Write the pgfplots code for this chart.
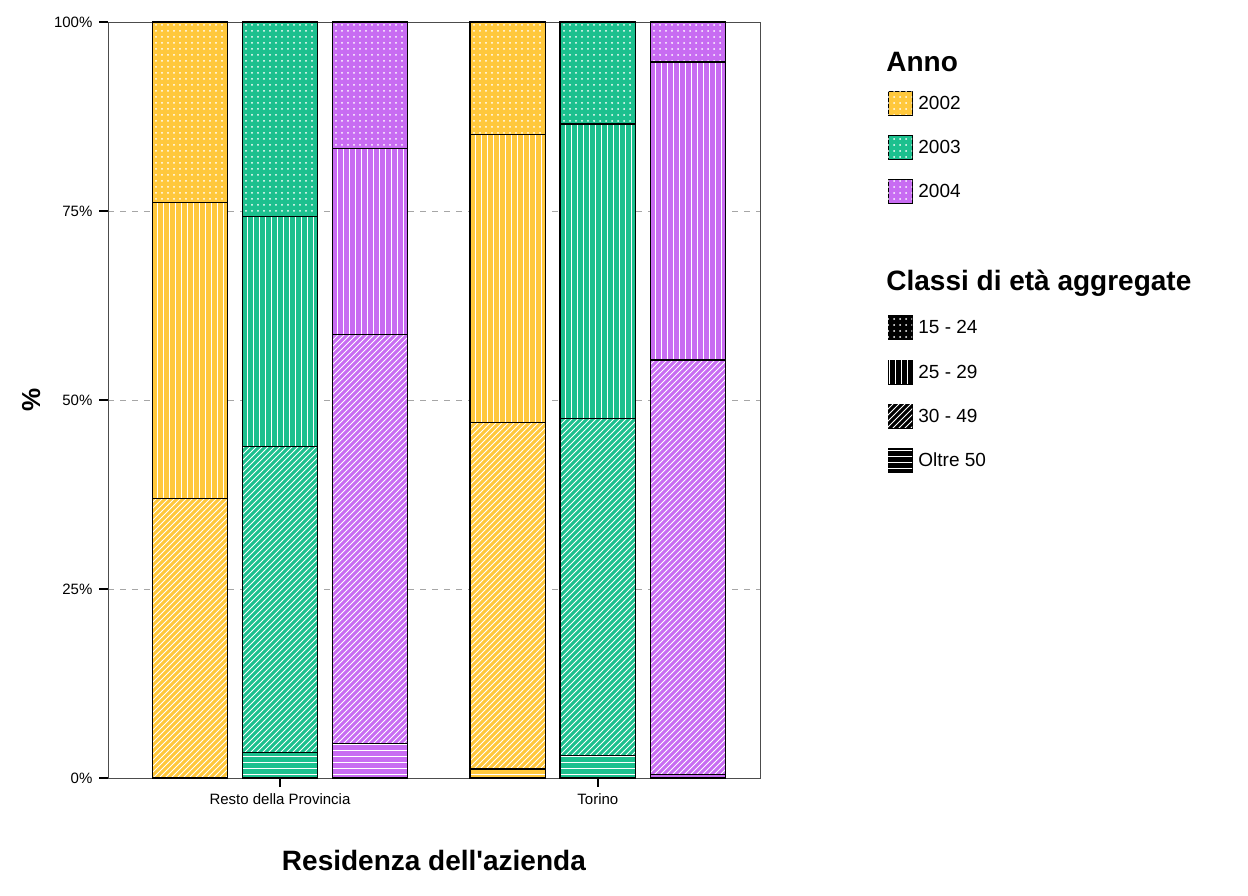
\documentclass[border=0pt]{standalone}
\usepackage{pgfplots}
\pgfplotsset{compat=1.18}
\usepackage{fontspec}
\setmainfont{Liberation Sans}
\usetikzlibrary{patterns}
\definecolor{cA}{HTML}{FFC83C}
\definecolor{cB}{HTML}{1CC08E}
\definecolor{cC}{HTML}{C86CF2}
\tikzset{
 pD/.style={postaction={pattern=dots,pattern color=white}},
 pV/.style={postaction={pattern=vertical lines,pattern color=white}},
 pN/.style={postaction={pattern=north east lines,pattern color=white}},
 pH/.style={postaction={pattern=horizontal lines,pattern color=white}},
}
\pgfplotsset{base/.style={at={(0,0)},anchor=south west,
 width=326pt,height=378pt,scale only axis,
 xmin=-0.91,xmax=6.33,ymin=0,ymax=100,
 ybar stacked,bar width=0.84,
 every axis plot/.append style={draw=black,line width=0.6pt}}}
\begin{document}
\begin{tikzpicture}
\useasboundingbox (-54pt,-58.5pt) rectangle (570pt,389pt);
\begin{axis}[base,
 ytick={0,25,50,75,100},yticklabels={0\%,25\%,50\%,75\%,100\%},
 xtick={1,4.53},xticklabels={Resto della Provincia,Torino},
 xtick pos=bottom,ytick pos=left,
 tick label style={font=\fontsize{7.5}{8}\selectfont},
 tick align=outside,tick style={black,line width=0.8pt},
 ymajorgrids,grid style={dashed,gray!70},
 ylabel={\textbf{\%}},ylabel style={font=\fontsize{13}{14}\selectfont},
 xlabel={\textbf{Residenza dell\textquotesingle azienda}},xlabel style={font=\fontsize{14}{15}\selectfont,yshift=-16pt},
 axis line style={black!70}]
\addplot[fill=cA,pH] coordinates {(0,0) (3.53,1.2)};
\addplot[fill=cA,pN] coordinates {(0,37.0) (3.53,45.8)};
\addplot[fill=cA,pV] coordinates {(0,39.1) (3.53,38.1)};
\addplot[fill=cA,pD] coordinates {(0,23.9) (3.53,14.9)};
\end{axis}
\begin{axis}[base,hide axis]
\addplot[fill=cB,pH] coordinates {(1,3.4) (4.53,3.0)};
\addplot[fill=cB,pN] coordinates {(1,40.4) (4.53,44.6)};
\addplot[fill=cB,pV] coordinates {(1,30.5) (4.53,38.9)};
\addplot[fill=cB,pD] coordinates {(1,25.7) (4.53,13.5)};
\end{axis}
\begin{axis}[base,hide axis]
\addplot[fill=cC,pH] coordinates {(2,4.6) (5.53,0.5)};
\addplot[fill=cC,pN] coordinates {(2,54.1) (5.53,54.8)};
\addplot[fill=cC,pV] coordinates {(2,24.6) (5.53,39.4)};
\addplot[fill=cC,pD] coordinates {(2,16.7) (5.53,5.3)};
\end{axis}
\begin{scope}[every node/.style={anchor=west,inner sep=0pt}]
\node at (389pt,358pt) {\fontsize{14}{15}\selectfont\bfseries Anno};
\node at (389pt,247.5pt) {\fontsize{14}{15}\selectfont\bfseries Classi di età aggregate};
\foreach \c/\y/\t in {cA/337.5/2002,cB/315.5/2003,cC/293.5/2004}{
 \draw[fill=\c,pD] (390pt,\y pt-6pt) rectangle (402pt,\y pt+6pt);
 \node at (405pt,\y pt) {\fontsize{9.5}{10}\selectfont \t};}
\foreach \p/\y/\t in {pD/225.5/15 - 24,pV/203/25 - 29,pN/181/30 - 49,pH/159/Oltre 50}{
 \draw[fill=black,\p] (390pt,\y pt-6pt) rectangle (402pt,\y pt+6pt);
 \node at (405pt,\y pt) {\fontsize{9.5}{10}\selectfont \t};}
\end{scope}
\end{tikzpicture}
\end{document}
